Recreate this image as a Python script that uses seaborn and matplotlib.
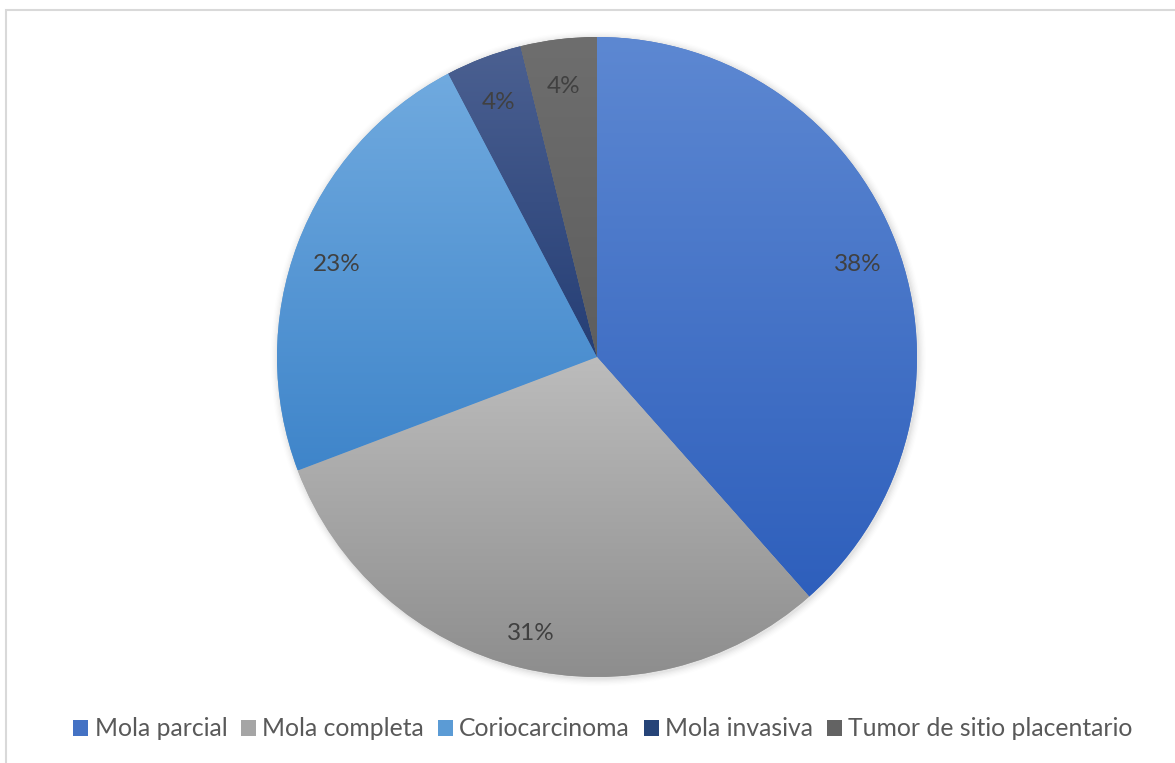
import numpy as np
import matplotlib
matplotlib.use("Agg")
import matplotlib.pyplot as plt
import matplotlib.transforms as mtransforms
from matplotlib.colors import LinearSegmentedColormap, to_rgb
from matplotlib.patches import Rectangle, Circle
import seaborn as sns

# Case counts per diagnosis
categories = ["Mola parcial", "Mola completa", "Coriocarcinoma", "Mola invasiva",
              "Tumor de sitio placentario"]
counts = [10, 8, 6, 1, 1]

# Office-style base colours and the light/dark ends of each slice gradient
base_colors = ["#4472C4", "#A5A5A5", "#5B9BD5", "#264478", "#636363"]
grad_top = ["#5D88D2", "#BCBCBC", "#70AADF", "#4B6091", "#6E6E6E"]
grad_bottom = ["#2E5FBC", "#8D8D8D", "#3F85CA", "#253E75", "#5E5E5E"]

sns.set_theme(style="white")
plt.rcParams["font.family"] = ["Lato", "DejaVu Sans"]

fig = plt.figure(figsize=(11.75, 7.63), dpi=100)
fig.patch.set_facecolor("white")

# Chart-area frame (light grey), open towards the right and bottom edges
fig.add_artist(Rectangle((6 / 1175, -0.05), 1.2, (763 - 10) / 763 + 0.05,
                         transform=fig.transFigure, fill=False,
                         edgecolor="#D9D9D9", linewidth=1.5))

ax = fig.add_axes([(597 - 320) / 1175, (763 - 677) / 763, 640 / 1175, 640 / 763])
ax.set_aspect("equal")
ax.axis("off")

# soft shadow behind the pie
for i, a in enumerate(np.linspace(0.05, 0.01, 6)):
    ax.add_patch(Circle((0.004, -0.004), 1.0 + 0.004 * (i + 1), facecolor="#000000",
                        alpha=a * 0.6, edgecolor="none", zorder=0, clip_on=False))

wedges, texts, autotexts = ax.pie(
    counts, colors=base_colors, startangle=90, counterclock=False,
    autopct="%1.0f%%", pctdistance=0.87, radius=1.0,
    wedgeprops=dict(linewidth=0, edgecolor="none"),
    textprops=dict(color="#404040", fontsize=17.5),
)

# vertical gradient fill clipped to each slice
for w, c0, c1 in zip(wedges, grad_top, grad_bottom):
    w.set_zorder(1)
    verts = w.get_path().vertices
    xmin, ymin = verts.min(axis=0)
    xmax, ymax = verts.max(axis=0)
    cmap = LinearSegmentedColormap.from_list("g", [to_rgb(c1), to_rgb(c0)])
    grad = np.linspace(0, 1, 256).reshape(-1, 1)
    im = ax.imshow(grad, cmap=cmap, origin="lower", aspect="auto",
                   extent=[xmin, xmax, ymin, ymax], zorder=2, interpolation="bilinear")
    im.set_clip_path(w)
ax.set_xlim(-1.0, 1.0)
ax.set_ylim(-1.0, 1.0)

# percentage labels sit a little lower than the geometric centre
shift = mtransforms.ScaledTranslation(0, -6 / 100, fig.dpi_scale_trans)
for t in autotexts:
    t.set_zorder(5)
    t.set_transform(t.get_transform() + shift)

handles = [Rectangle((0, 0), 1, 1, facecolor=c, edgecolor="none") for c in base_colors]
leg = fig.legend(handles, categories, loc="center", bbox_to_anchor=(0.513, 0.0446),
                 ncol=5, frameon=False, fontsize=17.8, handlelength=0.62, handleheight=0.62,
                 handletextpad=0.25, columnspacing=0.55)
for t in leg.get_texts():
    t.set_color("#595959")

fig.savefig("out.png", dpi=100, facecolor="white")
